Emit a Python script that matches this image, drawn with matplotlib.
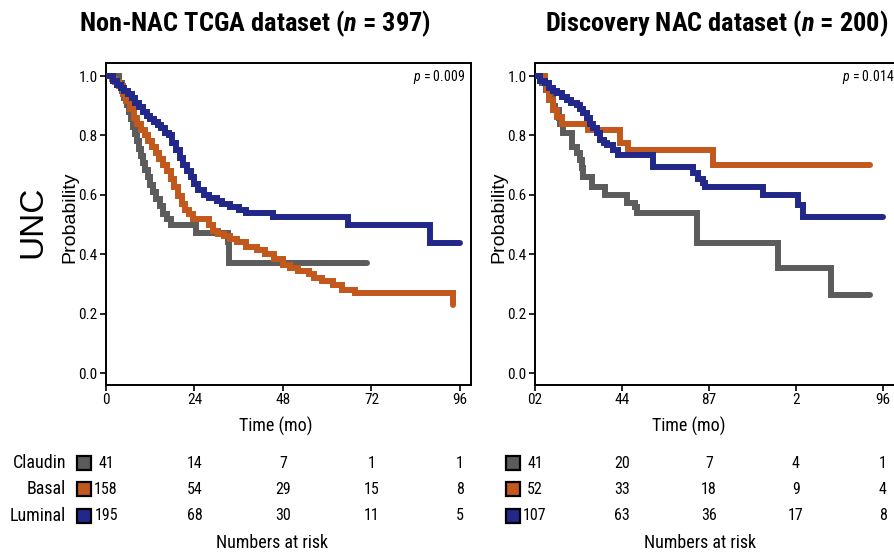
import matplotlib
matplotlib.use("Agg")
import matplotlib.pyplot as plt
import matplotlib.transforms as mtransforms
from matplotlib import font_manager

groupes = ["Claudin", "Basal", "Luminal"]
couleurs = ["#5c5c5c", "#c2581c", "#22288a"]

# Non-NAC TCGA (n = 397)
tcga_claudin_t = [0, 3.6, 4.3, 5.0, 5.6, 6.2, 6.8, 7.4, 7.9, 8.4, 8.9, 9.4, 9.9, 10.6, 11.3, 12.0,
                  12.8, 13.6, 14.6, 15.5, 16.5, 17.6, 24.5, 33.0, 33.4, 70.7]
tcga_claudin_s = [1.0, 0.976, 0.951, 0.927, 0.902, 0.878, 0.854, 0.829, 0.805, 0.780, 0.756, 0.732,
                  0.707, 0.683, 0.659, 0.634, 0.610, 0.585, 0.561, 0.537, 0.520, 0.500, 0.471, 0.44,
                  0.37, 0.37]
tcga_basal_t = [0, 1.5, 2.5, 3.5, 4.5, 5.5, 6.5, 7.5, 8.5, 9.5, 10.5, 11.5, 12.5, 13.5, 14.5, 15.5,
                16.5, 17.5, 18.5, 19.5, 20.5, 21.5, 22.5, 23.5, 28.0, 29.0, 30.5, 32.0, 33.5, 35.5,
                38.0, 41.0, 43.0, 45.5, 48.0, 50.0, 52.0, 55.0, 56.5, 58.5, 61.5, 64.0, 67.5, 94.0]
tcga_basal_s = [1.0, 0.99, 0.98, 0.965, 0.94, 0.915, 0.89, 0.86, 0.84, 0.82, 0.80, 0.78, 0.76, 0.74,
                0.72, 0.70, 0.68, 0.655, 0.625, 0.595, 0.57, 0.55, 0.535, 0.52, 0.50, 0.48, 0.47,
                0.46, 0.45, 0.44, 0.425, 0.415, 0.40, 0.385, 0.365, 0.355, 0.345, 0.335, 0.32,
                0.31, 0.295, 0.28, 0.27, 0.23]
tcga_luminal_t = [0, 2.0, 3.0, 4.0, 5.0, 6.0, 7.0, 8.0, 9.0, 10.0, 11.0, 12.0, 13.0, 14.0, 15.0,
                  16.0, 17.0, 18.0, 19.0, 20.0, 21.0, 22.0, 23.0, 24.0, 25.0, 26.5, 28.0, 30.0,
                  31.5, 33.5, 36.0, 38.0, 45.2, 65.6, 88.0, 96.0]
tcga_luminal_s = [1.0, 0.985, 0.97, 0.96, 0.95, 0.94, 0.925, 0.91, 0.895, 0.88, 0.865, 0.855, 0.845,
                  0.835, 0.825, 0.81, 0.80, 0.775, 0.75, 0.725, 0.70, 0.68, 0.66, 0.635, 0.615,
                  0.60, 0.59, 0.58, 0.57, 0.56, 0.549, 0.539, 0.525, 0.497, 0.437, 0.437]

# Discovery NAC (n = 200)
nac_claudin_t = [0, 2.0, 3.0, 4.0, 5.0, 5.5, 6.5, 7.0, 7.8, 10.3, 11.5, 12.4, 13.0, 13.3, 15.6,
                 19.3, 25.3, 27.6, 28.2, 44.6, 67.0, 81.8, 92.4]
nac_claudin_s = [1.0, 0.976, 0.953, 0.93, 0.90, 0.886, 0.86, 0.84, 0.81, 0.76, 0.74, 0.717, 0.69,
                 0.66, 0.627, 0.60, 0.572, 0.56, 0.539, 0.437, 0.353, 0.263, 0.263]
nac_basal_t = [0, 2.8, 3.2, 4.0, 5.0, 6.0, 7.4, 14.7, 23.4, 25.7, 49.2, 92.4]
nac_basal_s = [1.0, 0.976, 0.953, 0.919, 0.886, 0.863, 0.84, 0.818, 0.774, 0.75, 0.70, 0.70]
nac_luminal_t = [0, 1.5, 2.8, 4.0, 5.0, 6.0, 7.5, 8.7, 10.0, 11.5, 12.5, 13.3, 14.3, 15.2, 16.0,
                 17.0, 17.9, 19.0, 19.8, 21.5, 22.9, 32.6, 43.6, 45.0, 46.4, 46.9, 63.0, 72.6,
                 74.0, 96.0]
nac_luminal_s = [1.0, 0.985, 0.976, 0.96, 0.95, 0.943, 0.93, 0.919, 0.91, 0.902, 0.89, 0.875, 0.86,
                 0.84, 0.825, 0.808, 0.785, 0.775, 0.768, 0.75, 0.734, 0.695, 0.673, 0.655, 0.64,
                 0.627, 0.60, 0.566, 0.526, 0.526]

# effectifs à risque
temps_risque = [0, 24, 48, 72, 96]
tcga_risque = [[41, 14, 7, 1, 1], [158, 54, 29, 15, 8], [195, 68, 30, 11, 5]]
nac_risque = [[41, 20, 7, 4, 1], [52, 33, 18, 9, 4], [107, 63, 36, 17, 8]]

tcga_xlabels = ["0", "24", "48", "72", "96"]
nac_xlabels = ["02", "44", "87", "2", "96"]

# --- polices : une sans-serif étroite si possible ---
fonts = font_manager.fontManager.ttflist


def choisir(candidats, gras=False):
    for nom in candidats:
        dispo = [f for f in fonts if f.name == nom]
        if not dispo:
            continue
        if gras and not any(str(f.weight) in ("700", "bold") for f in dispo):
            continue
        return nom
    return "Liberation Sans"


ETROITES = ["Nimbus Sans Narrow", "Liberation Sans Narrow", "Arial Narrow", "Roboto Condensed",
            "Archivo Narrow", "Barlow Semi Condensed"]
NARROW = choisir(ETROITES)
NARROW_B = choisir(ETROITES, gras=True)
plt.rcParams["font.family"] = [NARROW, "DejaVu Sans"]
plt.rcParams["mathtext.fontset"] = "custom"
plt.rcParams["mathtext.it"] = NARROW + ":italic"
plt.rcParams["mathtext.bfit"] = NARROW_B + ":italic:bold"
plt.rcParams["mathtext.rm"] = NARROW

W, H = 894, 556
fig = plt.figure(figsize=(W / 100, H / 100), dpi=100)


def px(x, y):
    return x / W, 1 - y / H


def panneau(x0, xmax, courbes, xlabels, pval, risque, with_labels, right_spine):
    ax = fig.add_axes([x0 / W, 1 - 385 / H, 365 / W, 322 / H])
    for (t, s), c in zip(courbes, couleurs):
        ax.plot(t, s, drawstyle="steps-post", color=c, lw=4.3,
                solid_capstyle="round", solid_joinstyle="miter", zorder=3)
    ax.set_xlim(0, xmax)
    ax.set_ylim(-0.04, 1.044)
    ax.set_xticks(temps_risque)
    ax.set_xticklabels(xlabels)
    ax.set_yticks([0, 0.2, 0.4, 0.6, 0.8, 1.0])
    ax.set_yticklabels(["0.0", "0.2", "0.4", "0.6", "0.8", "1.0"])
    ax.tick_params(labelsize=11, length=4, width=1.2, pad=2, color="black")
    for sp in ax.spines.values():
        sp.set_linewidth(1.4)
    ax.spines["right"].set_visible(right_spine)
    ax.text(0.984, 0.958, r"$\mathit{p}$ = " + pval, transform=ax.transAxes,
            ha="right", va="center", fontsize=10)

    # tableau des effectifs à risque
    tr = mtransforms.blended_transform_factory(ax.transData, fig.transFigure)
    rows_y = [463, 489, 516]
    for i, (nom, c, vals) in enumerate(zip(groupes, couleurs, risque)):
        yf = 1 - rows_y[i] / H
        if with_labels:
            fig.text(66 / W, yf, nom, ha="right", va="center", fontsize=13)
        ax.plot([-6 * xmax / 99], [yf], marker="s", ms=9.5, mfc=c, mec="black", mew=1.6,
                transform=tr, clip_on=False)
        for tt, v in zip(temps_risque, vals):
            ax.text(tt, yf, str(v), transform=tr, ha="center", va="center", fontsize=11.5)
    return ax


ax1 = panneau(106, 99, [(tcga_claudin_t, tcga_claudin_s), (tcga_basal_t, tcga_basal_s),
                        (tcga_luminal_t, tcga_luminal_s)],
              tcga_xlabels, "0.009", tcga_risque, True, True)
ax2 = panneau(535, 100.7, [(nac_claudin_t, nac_claudin_s), (nac_basal_t, nac_basal_s),
                           (nac_luminal_t, nac_luminal_s)],
              nac_xlabels, "0.014", nac_risque, False, False)

# titres et libellés
fig.text(*px(255, 24), r"Non-NAC TCGA dataset ($\mathbfit{n}$ = 397)", ha="center", va="center",
         fontsize=19, fontweight="bold", family=NARROW_B)
fig.text(*px(717, 24), r"Discovery NAC dataset ($\mathbfit{n}$ = 200)", ha="center", va="center",
         fontsize=19, fontweight="bold", family=NARROW_B)
fig.text(*px(33, 222), "UNC", rotation=90, ha="center", va="center", fontsize=24,
         family="Liberation Sans")
for xc in (70, 499):
    fig.text(*px(xc, 217), "Probability", rotation=90, ha="center", va="center", fontsize=14,
             family="Liberation Sans")
for xc in (276, 689):
    fig.text(*px(xc, 426), "Time (mo)", ha="center", va="center", fontsize=13)
for xc in (272, 700):
    fig.text(*px(xc, 543), "Numbers at risk", ha="center", va="center", fontsize=13)

fig.savefig("out.png", dpi=100)
